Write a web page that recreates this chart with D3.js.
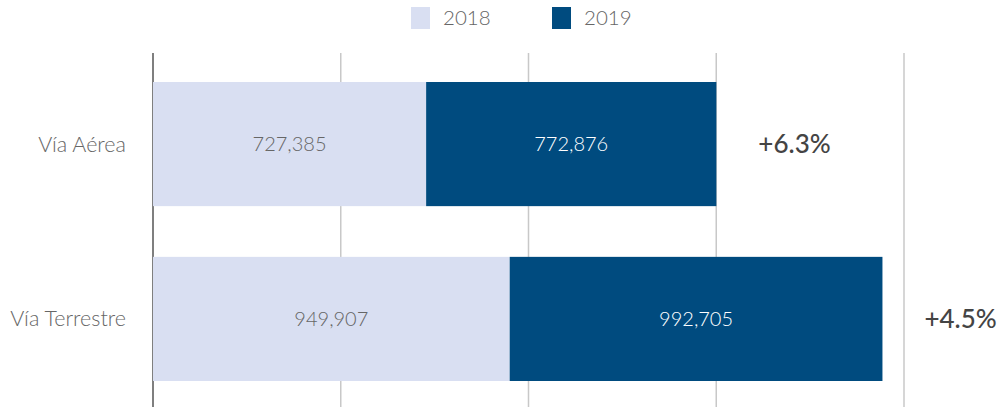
<!DOCTYPE html>
<html>
<head>
<meta charset="utf-8">
<script src="https://cdn.jsdelivr.net/npm/d3@7"></script>
<style>
  body { margin: 0; background: #fff; }
  text { font-family: Lato, "Open Sans", sans-serif; }
</style>
</head>
<body>
<svg id="chart" width="1001" height="407"></svg>
<script>
// datos
const categories = ["Vía Aérea", "Vía Terrestre"];
const years = ["2018", "2019"];
const values2018 = [727385, 949907];
const values2019 = [772876, 992705];
const changes = ["+6.3%", "+4.5%"];
const gridTicks = [0, 500000, 1000000, 1500000, 2000000];

const colors = { "2018": "#d9dff2", "2019": "#004b7f" };

const svg = d3.select("#chart");
const margin = { left: 153, top: 53 };

const x = d3.scaleLinear().domain([0, 2000000]).range([margin.left, 904]);
const y = d3.scaleBand().domain(categories).range([82, 381]).paddingInner(0.29).paddingOuter(0);

// gridlines
svg.append("g").selectAll("line").data(gridTicks).join("line")
    .attr("x1", d => x(d)).attr("x2", d => x(d))
    .attr("y1", margin.top).attr("y2", 407)
    .attr("stroke", d => d === 0 ? "#555" : "#c8c8c8")
    .attr("stroke-width", 1.5);

// stacked rows
const rows = categories.map((c, i) => ({ cat: c, "2018": values2018[i], "2019": values2019[i], change: changes[i] }));
const stack = d3.stack().keys(years)(rows);

const layers = svg.append("g").selectAll("g").data(stack).join("g")
    .attr("fill", d => colors[d.key]);

layers.selectAll("rect").data(d => d).join("rect")
    .attr("x", d => x(d[0]))
    .attr("y", d => y(d.data.cat))
    .attr("width", d => x(d[1]) - x(d[0]))
    .attr("height", y.bandwidth());

// valores dentro de las barras
stack.forEach(layer => {
    svg.append("g").selectAll("text").data(layer).join("text")
        .attr("x", d => (x(d[0]) + x(d[1])) / 2)
        .attr("y", d => y(d.data.cat) + y.bandwidth() / 2)
        .attr("dy", "0.35em")
        .attr("text-anchor", "middle")
        .attr("font-size", 20)
        .attr("font-weight", 300)
        .attr("fill", layer.key === "2018" ? "#666" : "#fff")
        .text(d => d3.format(",")(d.data[layer.key]));
});

// etiquetas de categoría
svg.append("g").selectAll("text").data(categories).join("text")
    .attr("x", 126)
    .attr("y", d => y(d) + y.bandwidth() / 2)
    .attr("dy", "0.35em")
    .attr("text-anchor", "end")
    .attr("font-size", 21.5)
    .attr("font-weight", 300)
    .attr("fill", "#666")
    .text(d => d);

// variación porcentual
svg.append("g").selectAll("text").data(rows).join("text")
    .attr("x", d => x(d["2018"] + d["2019"]) + 42)
    .attr("y", d => y(d.cat) + y.bandwidth() / 2)
    .attr("dy", "0.35em")
    .attr("font-size", 26)
    .attr("font-weight", 500)
    .attr("fill", "#444")
    .text(d => d.change);

// leyenda
const legend = svg.append("g").selectAll("g").data(years).join("g")
    .attr("transform", (d, i) => "translate(" + (411 + i * 141) + ",7)");
legend.append("rect")
    .attr("width", 19).attr("height", 22)
    .attr("fill", d => colors[d]);
legend.append("text")
    .attr("x", 32).attr("y", 11)
    .attr("dy", "0.35em")
    .attr("font-size", 20.5)
    .attr("font-weight", 300)
    .attr("fill", "#666")
    .text(d => d);
</script>
</body>
</html>
